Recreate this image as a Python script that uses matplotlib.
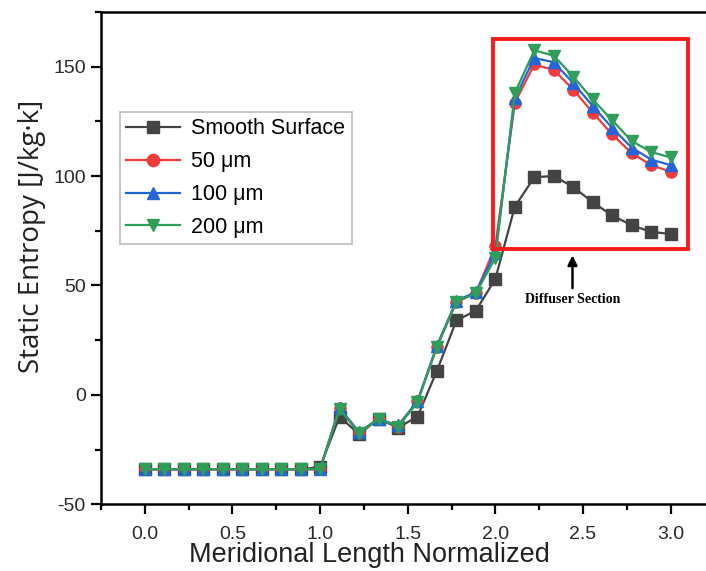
import numpy as np
import matplotlib
matplotlib.use("Agg")
import matplotlib.pyplot as plt
from matplotlib.patches import Rectangle
from matplotlib.ticker import MultipleLocator

plt.rcParams["axes.unicode_minus"] = False

# Data
x = [i / 9 for i in range(28)]
smooth = [-34, -34, -34, -34, -34, -34, -34, -34, -34, -33,
          -10, -18, -11, -15, -10, 11, 34, 38.5, 53,
          86, 99.5, 100, 95, 88, 82, 77.5, 74.5, 73.5]
um50 = [-34, -34, -34, -34, -34, -34, -34, -34, -34, -34,
        -6, -17.5, -11, -14.5, -3, 22, 42.5, 46.5, 68,
        133.5, 151, 148.5, 139.5, 129, 119, 110.5, 105, 102]
um100 = [-34, -34, -34, -34, -34, -34, -34, -34, -34, -34,
         -6, -17, -11, -14, -3, 22.5, 43, 47, 65,
         135.5, 154, 152, 142.5, 132, 122, 113, 107.5, 105]
um200 = [-34, -34, -34, -34, -34, -34, -34, -34, -34, -34,
         -6.5, -17.5, -11, -14.5, -3.5, 22, 42.5, 46.5, 62.5,
         138, 157.5, 155, 145.5, 135, 125.5, 116, 111, 108.5]
labels = ["Smooth Surface", "50 μm", "100 μm", "200 μm"]
colors = ["#444444", "#f03c3c", "#2466d8", "#2f9e58"]
markers = ["s", "o", "^", "v"]
xtick_labels = ["0.0", "0.5", "1.0", "1.5", "2.0", "2.5", "3.0"]

fig = plt.figure(figsize=(7.06, 5.71), dpi=100)
ax = fig.add_axes([0.143, 0.117, 0.869, 0.862])

for ys, lab, c, m in zip([smooth, um50, um100, um200], labels, colors, markers):
    ax.plot(x, ys, color=c, marker=m, markersize=8, linewidth=1.6, label=lab)

ax.set_xlim(-0.25, 3.25)
ax.set_ylim(-50, 175)
ax.xaxis.set_minor_locator(MultipleLocator(0.25))
ax.yaxis.set_major_locator(MultipleLocator(50))
ax.yaxis.set_minor_locator(MultipleLocator(25))
ax.set_xticks([0.0, 0.5, 1.0, 1.5, 2.0, 2.5, 3.0])
ax.set_xticklabels(xtick_labels)
ax.tick_params(which="major", direction="out", length=7, width=1.6,
               labelsize=14, labelcolor="#2a2a2a")
ax.tick_params(which="minor", direction="out", length=4.5, width=1.6)
ax.tick_params(axis="x", which="major", pad=8.5)
ax.tick_params(axis="y", which="major", pad=4)
for lbl in ax.get_xticklabels() + ax.get_yticklabels():
    lbl.set_family("Liberation Sans")
for s in ax.spines.values():
    s.set_linewidth(1.8)
ax.spines["right"].set_visible(False)

ax.set_xlabel("Meridional Length Normalized", fontsize=19.5,
              family="Liberation Sans", color="#222222")
ax.set_ylabel("Static Entropy [J/kg·k]", fontsize=20,
              family="Open Sans", color="#222222")
ax.xaxis.set_label_coords(0.438, -0.076)
ax.yaxis.set_label_coords(-0.09, 0.545)

leg = ax.legend(loc="upper left", bbox_to_anchor=(120 / 706, 1 - 112 / 571),
                bbox_transform=fig.transFigure, borderaxespad=0,
                prop={"family": "Liberation Sans", "size": 15.5},
                handlelength=2.5, handletextpad=0.5, labelspacing=0.55,
                borderpad=0.3, fancybox=False, framealpha=1, markerscale=1.1)
leg.get_frame().set_edgecolor("#bbbbbb")
leg.get_frame().set_linewidth(1.2)

rect = Rectangle((1.985, 66.7), 3.099 - 1.985, 162.6 - 66.7, fill=False,
                 edgecolor="#ff1a1a", linewidth=2.8, zorder=5)
ax.add_patch(rect)
ax.annotate("", xy=(2.44, 65), xytext=(2.44, 47.5),
            arrowprops=dict(arrowstyle="-|>", color="black", lw=1.8,
                            mutation_scale=14))
ax.text(2.44, 43.5, "Diffuser Section", ha="center", va="center",
        fontsize=10, fontweight="bold", family="Liberation Serif")

fig.savefig("out.png", dpi=100)
